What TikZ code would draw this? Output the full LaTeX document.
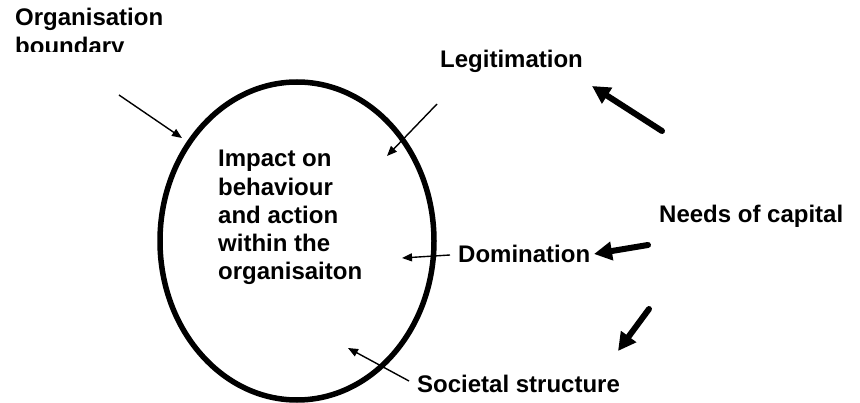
\documentclass[tikz,border=0pt]{standalone}
\usepackage{fontspec}
\setmainfont{Liberation Sans}
\usetikzlibrary{arrows.meta}
\begin{document}
\begin{tikzpicture}[x=1pt,y=-1pt,
  lbl/.style={font=\fontsize{24}{28.3}\selectfont\bfseries, inner sep=0pt, anchor=base west},
  thin/.style={line width=1.4pt, -{Triangle[length=10pt,width=8pt]}},
  thick/.style={line width=6pt, line cap=round, -{Triangle[length=18pt,width=18pt]}},
  boundary/.style={line width=5.5pt}]
\useasboundingbox (0,0) rectangle (860,403);
% organisation ellipse
\draw[boundary] (297,241) ellipse [x radius=137, y radius=159];
% labels
\begin{scope}
  \clip (0,0) rectangle (300,52);
  \node[lbl] (org) at (15,26) {Organisation};
  \node[lbl] (bnd) at (15,55) {boundary};
\end{scope}
\node[lbl] (leg) at (440,68) {Legitimation};
\node[lbl] (needs) at (659,223) {Needs of capital};
\node[lbl] (dom) at (458,263) {Domination};
\node[lbl] (soc) at (417,393) {Societal structure};
\node[lbl, align=left, anchor=north west] (imp) at (218,150)
  {Impact on\\behaviour\\and action\\within the\\organisaiton};
% coordinates for arrow ends
\coordinate (a1s) at (119,95);   \coordinate (a1e) at (182,138);
\coordinate (a2s) at (437,104);  \coordinate (a2e) at (387,156);
\coordinate (a3s) at (662,131);  \coordinate (a3e) at (592,86);
\coordinate (a4s) at (648,245);  \coordinate (a4e) at (594,254);
\coordinate (a5s) at (450,255);  \coordinate (a5e) at (402,258);
\coordinate (a6s) at (649,309);  \coordinate (a6e) at (618,351);
\coordinate (a7s) at (409,381);  \coordinate (a7e) at (348,348);
% arrows
\draw[thin] (a1s) -- (a1e);
\draw[thin] (a2s) -- (a2e);
\draw[thick] (a3s) -- (a3e);
\draw[thick] (a4s) -- (a4e);
\draw[thin] (a5s) -- (a5e);
\draw[thick] (a6s) -- (a6e);
\draw[thin] (a7s) -- (a7e);
\end{tikzpicture}
\end{document}
